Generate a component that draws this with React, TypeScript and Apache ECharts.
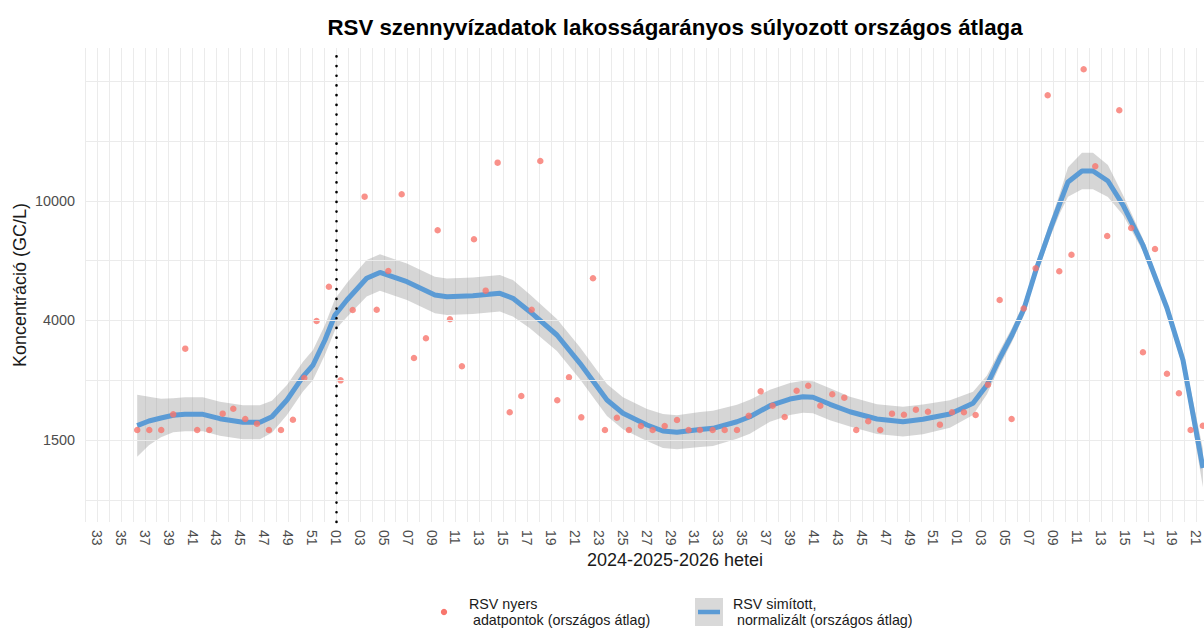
import { useEffect, useRef } from "react";
import * as echarts from "echarts";

// ---- Data ----
const TITLE = "RSV szennyvízadatok lakosságarányos súlyozott országos átlaga";
const X_TITLE = "2024-2025-2026 hetei";
const Y_TITLE = "Koncentráció (GC/L)";
const LEGEND_RAW = "RSV nyers\n adatpontok (országos átlag)";
const LEGEND_SMOOTH = "RSV simított,\n normalizált (országos átlag)";

const Y_TICK_VALUES = [1500, 4000, 10000];
const Y_TICK_LABELS = ["1500", "4000", "10000"];

const WEEKS_2024 = [33, 34, 35, 36, 37, 38, 39, 40, 41, 42, 43, 44, 45, 46, 47, 48, 49, 50, 51, 52];
const WEEKS_2025 = [
  1, 2, 3, 4, 5, 6, 7, 8, 9, 10, 11, 12, 13, 14, 15, 16, 17, 18, 19, 20, 21, 22, 23, 24, 25, 26,
  27, 28, 29, 30, 31, 32, 33, 34, 35, 36, 37, 38, 39, 40, 41, 42, 43, 44, 45, 46, 47, 48, 49, 50, 51, 52,
];
const WEEKS_2026 = [1, 2, 3, 4, 5, 6, 7, 8, 9, 10, 11, 12, 13, 14, 15, 16, 17, 18, 19, 20, 21];
const WEEK_LABELS = [...WEEKS_2024, ...WEEKS_2025, ...WEEKS_2026].map((w) => String(w).padStart(2, "0"));
const NEW_YEAR_WEEK_INDEX = WEEKS_2024.length; // 2025 W01

// raw measurements: position in weeks since 2024-W33, concentration (GC/L)
const RAW_WEEK = [
  3.37, 4.38, 5.38, 6.38, 7.39, 8.39, 9.4, 10.52, 11.41, 12.41,
  13.39, 14.39, 15.4, 16.4, 17.35, 18.38, 19.41, 20.39, 21.4, 22.4,
  23.41, 24.38, 25.5, 26.53, 27.53, 28.51, 29.54, 30.54, 31.55, 32.53,
  33.53, 34.54, 35.51, 36.38, 37.1, 38.52, 39.5, 40.53, 41.51, 42.51,
  43.51, 44.52, 45.52, 46.5, 47.51, 48.54, 49.51, 50.46, 51.52, 52.53,
  53.56, 54.54, 55.54, 56.54, 57.55, 58.55, 59.52, 60.53, 61.53, 62.54,
  63.54, 64.54, 65.55, 66.53, 67.53, 68.53, 69.54, 70.54, 71.55, 72.55,
  73.53, 74.56, 75.54, 76.54, 77.55, 78.55, 79.56, 80.53, 81.55, 82.57,
  83.54, 84.54, 85.55, 86.55, 87.53, 88.54, 89.54, 90.54, 91.52, 92.54,
];
const RAW_VALUE = [
  1628, 1628, 1628, 1852, 3174, 1628, 1628, 1862, 1939, 1782,
  1715, 1628, 1628, 1772, 2495, 3984, 5183, 2448, 4335, 10335,
  4345, 5846, 10528, 2940, 3456, 7988, 4037, 2747, 7455, 5027,
  13412, 1883, 2152, 4345, 13589, 2078, 2509, 1807, 5528, 1628,
  1801, 1628, 1683, 1628, 1683, 1768, 1628, 1628, 1628, 1628,
  1628, 1831, 2237, 1988, 1812, 2248, 2342, 1988, 2183, 2123,
  1628, 1749, 1628, 1862, 1846, 1924, 1892, 1701, 1883, 1883,
  1842, 2362, 4681, 1782, 4385, 5968, 22488, 5833, 6624, 27452,
  13050, 7646, 20047, 8130, 3081, 6920, 2585, 2201, 1628, 1687,
];

// smoothed curve and its multiplicative confidence factor
const SMOOTH_WEEK = [
  3.37, 4.35, 5.36, 6.38, 7.36, 8.87, 10.29, 12.22, 13.64, 14.64,
  15.9, 17.24, 18.08, 19.08, 19.92, 20.92, 22.57, 23.68, 25.94, 28.28,
  29.29, 31.46, 33.72, 34.81, 36.23, 38.49, 40.42, 42.68, 44.02, 46.03,
  47.36, 48.54, 50.46, 51.55, 53.56, 54.64, 56.32, 57.99, 59.08, 59.92,
  61.34, 63.01, 65.27, 67.45, 69.12, 71.38, 73.31, 74.48, 75.56, 76.57,
  77.57, 78.58, 79.75, 80.59, 81.26, 82.43, 83.35, 84.6, 85.86, 87.53,
  89.54, 90.88, 92.55,
];
const SMOOTH_VALUE = [
  1687, 1753, 1797, 1837, 1852, 1852, 1787, 1735, 1735, 1816,
  2083, 2522, 2776, 3409, 4172, 4681, 5528, 5780, 5386, 4864,
  4801, 4838, 4927, 4742, 4279, 3551, 2815, 2083, 1868, 1697,
  1615, 1598, 1635, 1651, 1743, 1816, 1988, 2100, 2140, 2130,
  2011, 1892, 1782, 1743, 1778, 1857, 2027, 2356, 2940, 3551,
  4368, 5892, 8006, 9848, 11568, 12586, 12586, 11658, 9698, 7136,
  4402, 2892, 1192,
];
const SMOOTH_CI = [
  1.29, 1.22, 1.17, 1.15, 1.15, 1.15, 1.15, 1.15, 1.15, 1.14,
  1.13, 1.13, 1.13, 1.13, 1.13, 1.14, 1.15, 1.15, 1.15, 1.15,
  1.15, 1.15, 1.15, 1.15, 1.14, 1.14, 1.14, 1.14, 1.14, 1.14,
  1.15, 1.15, 1.155, 1.155, 1.15, 1.15, 1.14, 1.14, 1.14, 1.14,
  1.14, 1.13, 1.13, 1.13, 1.13, 1.12, 1.1, 1.08, 1.066, 1.06,
  1.05, 1.05, 1.06, 1.08, 1.12, 1.15, 1.15, 1.13, 1.08, 1.05,
  1.04, 1.066, 1.17,
];

// ---- scale helpers ----
const LOG_TICKS = Y_TICK_VALUES.map((v) => Math.log(v));
function toPos(v: number): number {
  const lv = Math.log(v);
  const seg = lv <= LOG_TICKS[1] ? 0 : 1;
  return seg + (lv - LOG_TICKS[seg]) / (LOG_TICKS[seg + 1] - LOG_TICKS[seg]);
}
const Y_TICK_POS = Y_TICK_VALUES.map(toPos);
const GRID_POS: number[] = [];
for (let p = -0.5; p <= 3.001; p += 0.5) GRID_POS.push(Math.round(p * 10) / 10);

const FONT = "'Liberation Sans', Arial, sans-serif";

export default function App() {
  const ref = useRef<HTMLDivElement>(null);
  useEffect(() => {
    if (!ref.current) return;
    const chart = echarts.init(ref.current, null, { renderer: "svg" });
    const upper = SMOOTH_WEEK.map((w, i) => [w, toPos(SMOOTH_VALUE[i] * SMOOTH_CI[i])]);
    const lower = SMOOTH_WEEK.map((w, i) => [w, toPos(SMOOTH_VALUE[i] / SMOOTH_CI[i])]);
    chart.setOption({
      animation: false,
      textStyle: { fontFamily: FONT },
      grid: { left: 85, right: 0, top: 48, bottom: 106, containLabel: false },
      xAxis: {
        type: "value",
        min: -1,
        max: 92.64,
        interval: 1,
        axisLine: { show: false },
        axisTick: { show: false },
        splitLine: { show: true, lineStyle: { color: "#EBEBEB", width: 1 } },
        axisLabel: {
          rotate: -90,
          margin: 8,
          fontSize: 14,
          color: "#4D4D4D",
          fontFamily: FONT,
          showMaxLabel: false,
          formatter: (v: number) => {
            const i = Math.round(v);
            if (Math.abs(v - i) > 1e-6 || i < 0 || i % 2 !== 0) return "";
            return WEEK_LABELS[i] ?? "";
          },
        },
      },
      yAxis: {
        type: "value",
        min: -0.686,
        max: 3.28,
        axisLine: { show: false },
        axisTick: { show: false },
        splitLine: { show: false },
        axisLabel: {
          customValues: Y_TICK_POS,
          margin: 10,
          fontSize: 14.4,
          color: "#4D4D4D",
          fontFamily: FONT,
          formatter: (v: number) => {
            const k = Y_TICK_POS.findIndex((p) => Math.abs(p - v) < 1e-6);
            return k >= 0 ? Y_TICK_LABELS[k] : "";
          },
        },
      },
      series: [
        {
          type: "line",
          data: [],
          z: 1,
          silent: true,
          markLine: {
            silent: true,
            symbol: ["none", "none"],
            label: { show: false },
            lineStyle: { color: "#EBEBEB", width: 1, type: "solid" },
            data: GRID_POS.map((p) => ({ yAxis: p })),
          },
        },
        {
          type: "custom",
          z: 2,
          silent: true,
          data: [[0, 0]],
          renderItem: (params: any, api: any) => {
            if (params.dataIndex !== 0) return null;
            const pts = [
              ...upper.map((d) => api.coord(d)),
              ...lower.slice().reverse().map((d) => api.coord(d)),
            ];
            return {
              type: "polygon",
              shape: { points: pts },
              style: { fill: "rgba(153,153,153,0.4)", stroke: "none" },
            };
          },
        },
        {
          type: "line",
          z: 3,
          silent: true,
          showSymbol: false,
          data: SMOOTH_WEEK.map((w, i) => [w, toPos(SMOOTH_VALUE[i])]),
          lineStyle: { color: "#5B9BD5", width: 5 },
        },
        {
          type: "scatter",
          z: 4,
          silent: true,
          symbolSize: 6.5,
          itemStyle: { color: "#F8766D" },
          data: RAW_WEEK.map((w, i) => [w, toPos(RAW_VALUE[i])]),
          markLine: {
            silent: true,
            symbol: ["none", "none"],
            label: { show: false },
            lineStyle: { color: "#000000", width: 2.6, type: [0.1, 9.6], cap: "round" },
            data: [{ xAxis: NEW_YEAR_WEEK_INDEX }],
          },
        },
      ],
      graphic: [
        {
          type: "text",
          x: 675,
          y: 27,
          style: {
            text: TITLE,
            font: `bold 22.3px ${FONT}`,
            fill: "#000000",
            textAlign: "center",
            textVerticalAlign: "middle",
          },
        },
        {
          type: "text",
          x: 675,
          y: 560,
          style: {
            text: X_TITLE,
            font: `18px ${FONT}`,
            fill: "#1A1A1A",
            textAlign: "center",
            textVerticalAlign: "middle",
          },
        },
        {
          type: "text",
          x: 20,
          y: 285,
          rotation: Math.PI / 2,
          style: {
            text: Y_TITLE,
            font: `18px ${FONT}`,
            fill: "#1A1A1A",
            textAlign: "center",
            textVerticalAlign: "middle",
          },
        },
        {
          type: "circle",
          shape: { cx: 444, cy: 612, r: 3.2 },
          style: { fill: "#F8766D" },
        },
        {
          type: "text",
          x: 469,
          y: 612,
          style: {
            text: LEGEND_RAW,
            font: `14.3px ${FONT}`,
            lineHeight: 15.5,
            fill: "#1A1A1A",
            textAlign: "left",
            textVerticalAlign: "middle",
          },
        },
        {
          type: "rect",
          shape: { x: 695, y: 598, width: 28, height: 28 },
          style: { fill: "#D9D9D9" },
        },
        {
          type: "line",
          shape: { x1: 698, y1: 612, x2: 720, y2: 612 },
          style: { stroke: "#5B9BD5", lineWidth: 4.5 },
        },
        {
          type: "text",
          x: 733,
          y: 612,
          style: {
            text: LEGEND_SMOOTH,
            font: `14.3px ${FONT}`,
            lineHeight: 15.5,
            fill: "#1A1A1A",
            textAlign: "left",
            textVerticalAlign: "middle",
          },
        },
      ],
    });
    return () => chart.dispose();
  }, []);
  return (
    <div style={{ position: "fixed", left: 0, top: 0, width: 1204, height: 628, overflow: "hidden", background: "#fff" }}>
      <div ref={ref} style={{ width: 1204, height: 628 }} />
    </div>
  );
}
